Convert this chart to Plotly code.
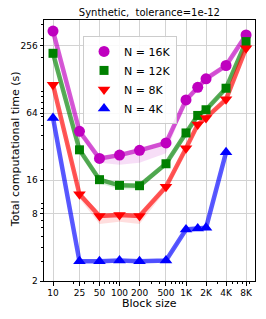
import plotly.graph_objects as go

block_sizes = [10, 25, 50, 100, 200, 500, 1000, 1500, 2000, 4000, 8000]
x_tick_vals = [10, 25, 50, 100, 200, 500, 1000, 2000, 4000, 8000]
x_tick_text = ["10", "25", "50", "100", "200", "500", "1K", "2K", "4K", "8K"]
y_tick_vals = [2, 8, 16, 64, 256]
y_tick_text = ["2", "8", "16", "64", "256"]

t_16k = [348, 44, 25.1, 26.9, 29.7, 34.6, 84, 109, 130, 171, 321]
t_12k = [220, 30, 16.2, 14.4, 14.3, 22.5, 42.5, 61, 68.6, 107, 280]
t_8k = [115, 12, 7.65, 7.8, 7.65, 14, 31, 50.5, 58, 85, 244]
t_4k = [58, 3.0, 3.0, 3.05, 3.0, 3.05, 5.8, 5.9, 6.0, 28.5]

lo_16k = [338, 42, 23.0, 22.0, 23.0, 28, 81, 105, 125, 165, 312]
hi_16k = [356, 46, 26.0, 28.0, 31.0, 36, 88, 113, 135, 177, 330]
lo_12k = [212, 28.5, 15.0, 13.3, 13.2, 21.5, 41, 58, 66, 103, 272]
hi_12k = [228, 31, 17.0, 15.0, 15.0, 23.5, 44, 63, 71, 111, 288]
lo_8k = [110, 11, 6.5, 6.8, 6.5, 13, 29, 48, 55, 80, 235]
hi_8k = [120, 13, 8.0, 8.2, 8.0, 14.5, 32, 52, 60, 88, 250]
lo_4k = [56, 2.9, 2.9, 2.95, 2.9, 2.95, 5.6, 5.7, 5.8, 27.5]
hi_4k = [60, 3.1, 3.1, 3.15, 3.1, 3.15, 6.0, 6.1, 6.2, 29.5]

series = [
    ("N = 16K", t_16k, lo_16k, hi_16k, (191, 0, 191), "circle", 11),
    ("N = 12K", t_12k, lo_12k, hi_12k, (0, 128, 0), "square", 9),
    ("N = 8K", t_8k, lo_8k, hi_8k, (255, 0, 0), "triangle-down", 11),
    ("N = 4K", t_4k, lo_4k, hi_4k, (0, 0, 255), "triangle-up", 11),
]

fig = go.Figure()
font_family = "DejaVu Sans"

for name, vals, lo, hi, rgb, sym, size in series:
    xs = block_sizes[:len(vals)]
    r, g, b = rgb
    fig.add_trace(go.Scatter(
        x=xs + xs[::-1], y=hi + lo[::-1], fill="toself", mode="lines",
        line=dict(width=0), fillcolor=f"rgba({r},{g},{b},0.13)",
        showlegend=False, hoverinfo="skip"))
    fig.add_trace(go.Scatter(
        x=xs, y=vals, mode="lines",
        line=dict(color=f"rgba({r},{g},{b},0.65)", width=4.5),
        showlegend=False, hoverinfo="skip"))

for name, vals, lo, hi, rgb, sym, size in series:
    xs = block_sizes[:len(vals)]
    r, g, b = rgb
    fig.add_trace(go.Scatter(
        x=xs, y=vals, mode="markers", name=name,
        marker=dict(symbol=sym, size=size, color=f"rgb({r},{g},{b})",
                    line=dict(width=0))))

x_minor = [20, 30, 40, 60, 70, 80, 90, 300, 400, 600, 700, 800, 900,
           3000, 5000, 6000, 7000, 9000]
y_minor = [3, 4, 5, 6, 7, 9, 10, 20, 30, 40, 50, 60, 70, 80, 90, 100, 200, 300, 400]

# page body has an 8px margin; figure is sized/margined to compensate
fig.update_layout(
    width=258, height=311,
    margin=dict(l=36, r=11, t=12, b=38),
    paper_bgcolor="white", plot_bgcolor="white",
    font=dict(family=font_family, color="black", size=9),
    title=dict(text="Synthetic,  tolerance=1e-12", x=0.548, xanchor="center",
               y=0.984, yanchor="middle", font=dict(size=10)),
    showlegend=True,
    legend=dict(x=0.185, y=0.939, xanchor="left", yanchor="top",
                bgcolor="rgba(255,255,255,0.85)", bordercolor="#cccccc", borderwidth=1,
                font=dict(size=11), itemwidth=30, tracegroupgap=0),
    xaxis=dict(
        type="log", range=[0.8645, 4.0375], automargin=False,
        tickmode="array", tickvals=x_tick_vals, ticktext=x_tick_text,
        ticks="outside", ticklen=3.5, tickcolor="black",
        showgrid=True, gridcolor="#d3d3d3", gridwidth=1,
        showline=True, linecolor="black", linewidth=1, mirror=True,
        zeroline=False,
        minor=dict(tickvals=x_minor, ticks="outside", ticklen=2, tickcolor="black", showgrid=False),
        tickfont=dict(size=9),
    ),
    yaxis=dict(
        type="log", range=[0.30103, 2.641], automargin=False,
        tickmode="array", tickvals=y_tick_vals, ticktext=y_tick_text,
        ticks="outside", ticklen=3.5, tickcolor="black",
        showgrid=True, gridcolor="#d3d3d3", gridwidth=1,
        showline=True, linecolor="black", linewidth=1, mirror=True,
        zeroline=False,
        minor=dict(tickvals=y_minor, ticks="outside", ticklen=2, tickcolor="black", showgrid=False),
        tickfont=dict(size=9),
    ),
    annotations=[
        dict(text="Block size", xref="paper", yref="paper", x=0.5, y=-0.0843,
             xanchor="center", yanchor="middle", showarrow=False, font=dict(size=11)),
        dict(text="Total computational time (s)", xref="paper", yref="paper",
             x=-0.1374, y=0.505, xanchor="center", yanchor="middle", textangle=-90,
             showarrow=False, font=dict(size=11)),
    ],
)

fig.write_html("out.html")
